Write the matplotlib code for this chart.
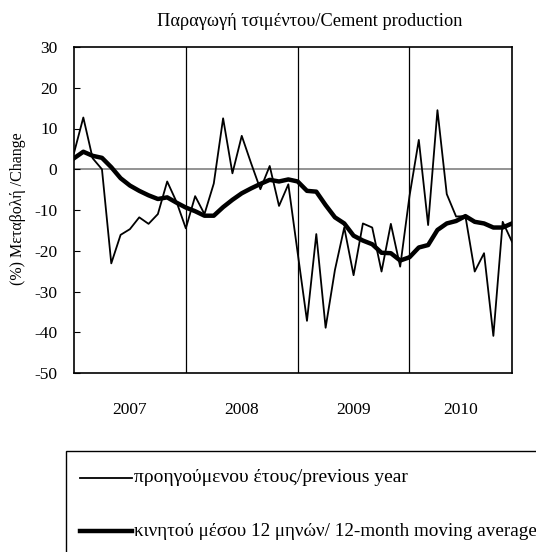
import matplotlib
matplotlib.use("Agg")
import matplotlib.pyplot as plt
from matplotlib.lines import Line2D
from matplotlib.patches import Rectangle

plt.rcParams['font.family'] = ['Liberation Serif', 'DejaVu Serif']

# Monthly data, 48 months
yoy = [4.0, 12.7, 2.7, 0.0, -23.1, -16.1, -14.7, -11.8, -13.4, -11.0, -3.0, -8.0,
       -14.5, -6.6, -11.0, -3.5, 12.5, -1.0, 8.2, 1.5, -4.9, 0.8, -9.0, -3.7,
       -20.5, -37.2, -15.9, -38.9, -24.7, -14.3, -26.0, -13.3, -14.3, -25.1, -13.4, -23.9,
       -6.6, 7.2, -13.7, 14.5, -6.1, -11.6, -11.5, -25.1, -20.6, -40.9, -12.9, -17.8]
mavg = [2.7, 4.3, 3.3, 2.8, 0.5, -2.2, -4.0, -5.3, -6.4, -7.3, -6.9, -8.2,
        -9.4, -10.3, -11.4, -11.4, -9.3, -7.5, -5.9, -4.7, -3.6, -2.6, -3.0, -2.5,
        -3.0, -5.3, -5.5, -8.8, -11.8, -13.3, -16.3, -17.5, -18.4, -20.5, -20.6, -22.4,
        -21.6, -19.2, -18.6, -14.9, -13.3, -12.7, -11.5, -12.9, -13.3, -14.3, -14.3, -13.3]
years = ['2007', '2008', '2009', '2010']
year_pos = [6, 18, 30, 41.5]
year_bounds = [12, 24, 36]
yticks = [30, 20, 10, 0, -10, -20, -30, -40, -50]

title = 'Παραγωγή τσιμέντου/Cement production'
ylabel = '(%) Μεταβολή /Change'
leg1 = 'προηγούμενου έτους/previous year'
leg2 = 'κινητού μέσου 12 μηνών/ 12-month moving average'

W, H = 536, 552
fig = plt.figure(figsize=(W / 100, H / 100), dpi=100)
L, R, T, B = 74, 512, 47, 373
ax = fig.add_axes([L / W, 1 - B / H, (R - L) / W, (B - T) / H])

x = list(range(len(yoy)))
ax.axhline(0, color='#808080', lw=1.2, zorder=1)
for b in year_bounds:
    ax.axvline(b, color='black', lw=0.9, zorder=1)
ax.plot(x, yoy, color='black', lw=1.3, zorder=3)
ax.plot(x, mavg, color='black', lw=3.2, zorder=4, solid_joinstyle='round')

ax.set_xlim(0, len(yoy) - 1)
ax.set_ylim(-50, 30)
ax.set_yticks(yticks)
ax.set_yticklabels([str(v) for v in yticks])
ax.tick_params(axis='y', direction='in', length=4, width=0.8, pad=12, labelsize=12.5)
ax.set_xticks(year_pos)
ax.set_xticklabels(years)
ax.tick_params(axis='x', length=0, pad=21, labelsize=12.5)
for s in ax.spines.values():
    s.set_linewidth(1.2)

fig.text(310 / W, 1 - 22 / H, title, ha='center', va='center', fontsize=13.2)
fig.text(18 / W, 1 - 209 / H, ylabel, ha='center', va='center', rotation=90, fontsize=11.5)

# legend box (extends past figure edges as in reference)
fig.add_artist(Rectangle((66 / W, -0.05), 1.0, (1 - 451 / H) + 0.05,
                         transform=fig.transFigure, fill=False, ec='black', lw=1.0))
fig.add_artist(Line2D([80 / W, 132 / W], [1 - 478 / H] * 2, transform=fig.transFigure,
                      color='black', lw=1.3))
fig.add_artist(Line2D([80 / W, 132 / W], [1 - 531 / H] * 2, transform=fig.transFigure,
                      color='black', lw=3.2))
fig.text(134 / W, 1 - 478 / H, leg1, ha='left', va='center', fontsize=14)
fig.text(134 / W, 1 - 531 / H, leg2, ha='left', va='center', fontsize=13.8)

fig.savefig('out.png', dpi=100)
